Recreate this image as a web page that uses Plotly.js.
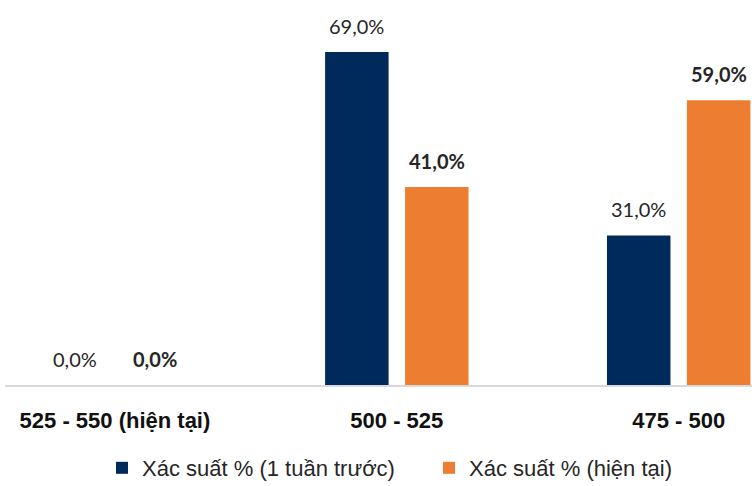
<!DOCTYPE html>
<html>
<head>
<meta charset="utf-8">
<script src="https://cdn.plot.ly/plotly-3.0.1.min.js"></script>
<style>html,body{margin:0;padding:0;background:#fff}#chart{width:756px;height:486px}</style>
</head>
<body>
<div id="chart"></div>
<script>
const categories = ["525 - 550 (hiện tại)", "500 - 525", "475 - 500"];
const seriesNames = ["Xác suất % (1 tuần trước)", "Xác suất % (hiện tại)"];
const weekAgo = [0.0, 69.0, 31.0];
const current = [0.0, 41.0, 59.0];

const navy = "#002A5C";
const orange = "#ED7D31";

function fmt(v){ return v.toFixed(1).replace(".", ",") + "%"; }

const traces = [
  {type:"bar", name:seriesNames[0], x:categories, y:weekAgo, marker:{color:navy}, hoverinfo:"none"},
  {type:"bar", name:seriesNames[1], x:categories, y:current, marker:{color:orange}, hoverinfo:"none"}
];

const annotations = [];
categories.forEach((c,i)=>{
  annotations.push({x:c, y:weekAgo[i], xref:"x", yref:"y", text:fmt(weekAgo[i]), showarrow:false,
    xshift:-40, yshift:26, yanchor:"middle", font:{family:"Lato, sans-serif", size:20, color:"#262626"}});
  annotations.push({x:c, y:current[i], xref:"x", yref:"y", text:"<b>"+fmt(current[i])+"</b>", showarrow:false,
    xshift:40, yshift:26, yanchor:"middle", font:{family:"Lato, sans-serif", size:20, color:"#262626"}});
});

const layout = {
  width:756, height:486,
  margin:{l:5, r:4, t:10, b:101},
  paper_bgcolor:"#fff", plot_bgcolor:"#fff",
  barmode:"group", bargap:0.4326, bargroupgap:0.206,
  xaxis:{type:"category", range:[-0.39, 2.26], showgrid:false, zeroline:false,
    showline:true, linecolor:"#D9D9D9", linewidth:2, ticks:"", ticklabelstandoff:15,
    tickfont:{family:"'Liberation Sans', Arial, sans-serif", size:22, color:"#111"},
    tickprefix:"<b>", ticksuffix:"</b>", fixedrange:true},
  yaxis:{range:[0, 77.7], visible:false, showgrid:false, zeroline:false, fixedrange:true},
  showlegend:true,
  legend:{orientation:"h", xref:"paper", x:0.155, xanchor:"left", yref:"container", y:0.037, yanchor:"middle",
    entrywidth:282, entrywidthmode:"pixels",
    font:{family:"'Liberation Sans', Arial, sans-serif", size:22, color:"#262626"}, itemclick:false, itemdoubleclick:false},
  annotations:annotations
};

Plotly.newPlot("chart", traces, layout, {displayModeBar:false, staticPlot:true});
</script>
</body>
</html>
